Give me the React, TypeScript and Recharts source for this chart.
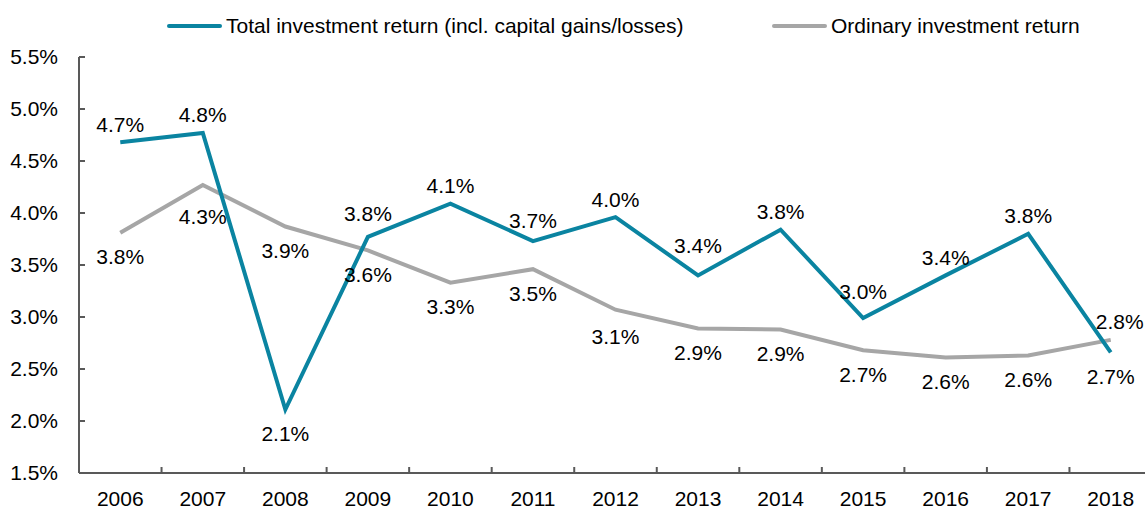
import React from 'react';
import { LineChart, Line, XAxis, YAxis } from 'recharts';

const years = ['2006', '2007', '2008', '2009', '2010', '2011', '2012', '2013', '2014', '2015', '2016', '2017', '2018'];
const totalReturn = [4.68, 4.77, 2.11, 3.77, 4.09, 3.73, 3.96, 3.4, 3.84, 2.99, 3.4, 3.8, 2.66];
const ordinaryReturn = [3.81, 4.27, 3.87, 3.64, 3.33, 3.46, 3.07, 2.89, 2.88, 2.68, 2.61, 2.63, 2.78];
const yTicks = [1.5, 2.0, 2.5, 3.0, 3.5, 4.0, 4.5, 5.0, 5.5];

const TOTAL_LABEL = 'Total investment return (incl. capital gains/losses)';
const ORDINARY_LABEL = 'Ordinary investment return';

const BLUE = '#0A84A1';
const GREY = '#A6A6A6';
const AXIS = '#595959';
const FONT = '"Liberation Sans", Arial, sans-serif';
const FS = 21;

const CHART_W = 1160;
const CHART_H = 509;
const Y_AXIS_W = 79;
const RIGHT = 8;
const STEP = (CHART_W - Y_AXIS_W - RIGHT) / years.length;

const data = years.map((year, i) => ({
    year,
    total: totalReturn[i],
    ordinary: ordinaryReturn[i],
}));

// label placement: side of the line and a few extra nudges (px), like the Excel original
const totalBelow = new Set(['2008', '2018']);
const ordinaryAbove = new Set(['2018']);
const extraGap: Record<string, number> = {
    'total-2009': 5,
    'total-2011': 3,
    'total-2013': 12,
    'total-2015': 9,
    'ordinary-2007': 8,
    'ordinary-2012': 3,
};

function makeLabel(series: 'total' | 'ordinary') {
    return (props: any) => {
        const { x, y, value, index } = props;
        if (value == null) return null;
        const year = years[index];
        const above = series === 'total' ? !totalBelow.has(year) : ordinaryAbove.has(year);
        const gap = extraGap[`${series}-${year}`] || 0;
        const dx = series === 'ordinary' && year === '2018' ? 9 : 0;
        // centre of text sits ~18px above or ~24px below the point
        const cy = above ? y - 18 - gap : y + 24 + gap;
        return (
            <text
                key={`${series}-${index}`}
                x={x + dx}
                y={cy + 7.5}
                textAnchor="middle"
                fontSize={FS}
                fontFamily={FONT}
                fill="#000"
            >
                {Number(value).toFixed(1)}%
            </text>
        );
    };
}

const XTick = (props: any) => {
    const { x, y, payload } = props;
    const bx = x - STEP / 2;
    return (
        <g>
            <line x1={bx} x2={bx} y1={y} y2={y - 6} stroke={AXIS} strokeWidth={2} />
            <text x={x} y={y + 33} textAnchor="middle" fontSize={FS} fontFamily={FONT} fill="#000">
                {payload.value}
            </text>
        </g>
    );
};

function LegendItem({ color, label, left }: { color: string; label: string; left: number }) {
    return (
        <div
            style={{
                position: 'absolute',
                left,
                top: 14,
                height: 24,
                display: 'flex',
                alignItems: 'center',
                fontFamily: FONT,
                fontSize: FS,
                color: '#000',
                whiteSpace: 'nowrap',
            }}
        >
            <span style={{ display: 'inline-block', width: 55, height: 4, borderRadius: 2, background: color, marginRight: 4 }} />
            {label}
        </div>
    );
}

export default function App() {
    return (
        <div
            style={{
                position: 'absolute',
                left: 0,
                top: 0,
                width: 1145,
                height: CHART_H,
                overflow: 'hidden',
                background: '#fff',
            }}
        >
            <LegendItem color={BLUE} label={TOTAL_LABEL} left={167} />
            <LegendItem color={GREY} label={ORDINARY_LABEL} left={772} />
            <LineChart
                width={CHART_W}
                height={CHART_H}
                data={data}
                margin={{ top: 57, right: RIGHT, left: 0, bottom: 0 }}
            >
                <XAxis
                    dataKey="year"
                    height={36}
                    padding={{ left: STEP / 2, right: STEP / 2 }}
                    axisLine={{ stroke: AXIS, strokeWidth: 2 }}
                    tickLine={false}
                    tickSize={0}
                    tickMargin={0}
                    interval={0}
                    tick={<XTick />}
                />
                <YAxis
                    width={Y_AXIS_W}
                    domain={[1.5, 5.5]}
                    ticks={yTicks}
                    interval={0}
                    axisLine={{ stroke: AXIS, strokeWidth: 2 }}
                    tickLine={{ stroke: AXIS, strokeWidth: 2 }}
                    tickSize={-6}
                    tickMargin={27}
                    tick={{ fontSize: FS, fontFamily: FONT, fill: '#000' }}
                    tickFormatter={(v: number) => `${v.toFixed(1)}%`}
                />
                <Line
                    dataKey="ordinary"
                    name={ORDINARY_LABEL}
                    type="linear"
                    stroke={GREY}
                    strokeWidth={4}
                    dot={false}
                    isAnimationActive={false}
                    label={makeLabel('ordinary')}
                />
                <Line
                    dataKey="total"
                    name={TOTAL_LABEL}
                    type="linear"
                    stroke={BLUE}
                    strokeWidth={4}
                    dot={false}
                    isAnimationActive={false}
                    label={makeLabel('total')}
                />
            </LineChart>
        </div>
    );
}
